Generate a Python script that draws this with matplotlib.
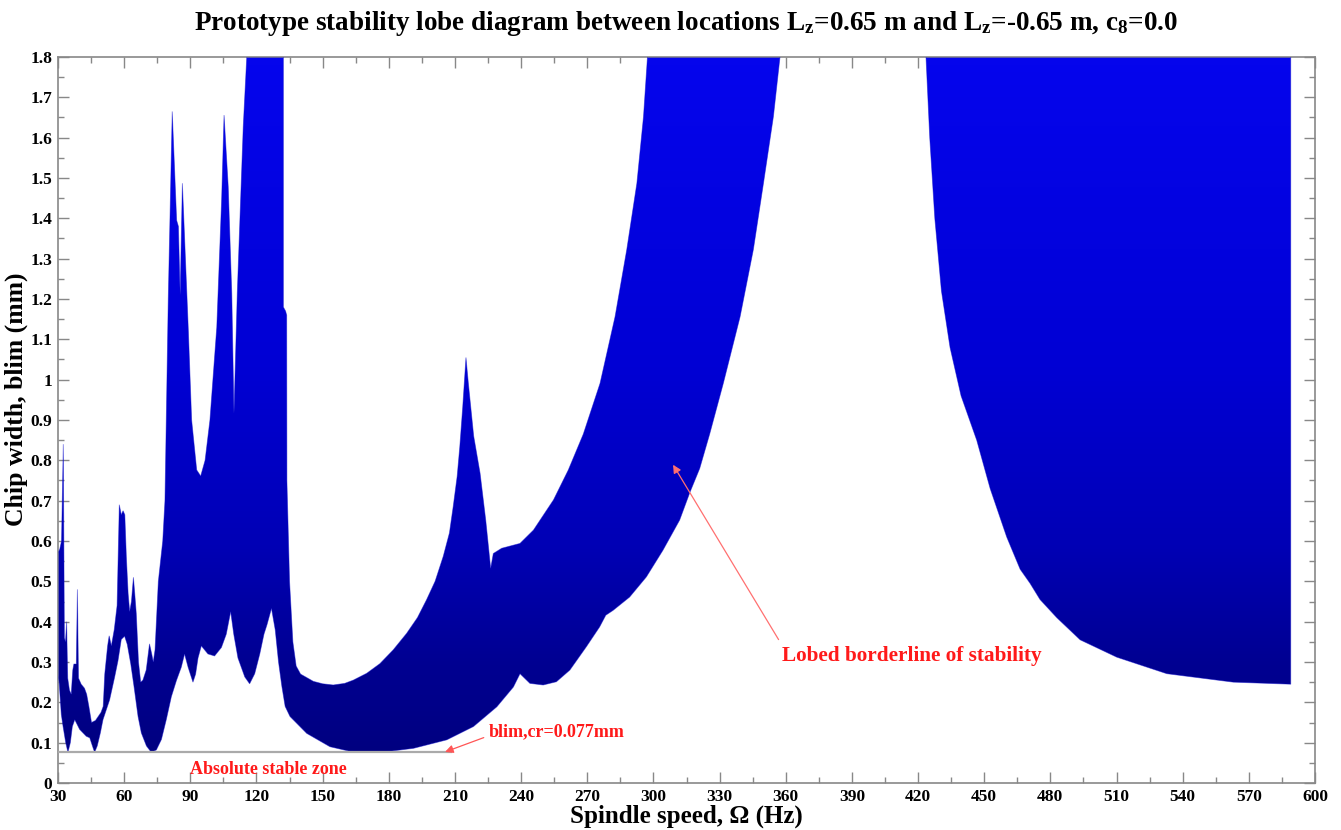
import numpy as np
import matplotlib
matplotlib.use("Agg")
import matplotlib.pyplot as plt
from matplotlib.patches import Polygon
from matplotlib.colors import LinearSegmentedColormap
from matplotlib.ticker import MultipleLocator, FuncFormatter

# ---------------- data ----------------
# main lobe group: upper boundary, left -> right
upper_x = [30.0, 30.8, 31.6, 32.4, 32.9, 33.4, 33.9, 34.4, 35.2, 36.0, 36.7, 37.2, 38.3, 38.8, 39.3,
           40.5, 42.0, 43.0, 44.0, 45.2, 47.0, 49.5, 50.5, 51.2, 52.5, 53.2, 54.2, 55.5, 56.8, 57.8,
           58.7, 59.5, 60.3, 61.0, 61.8, 62.5, 63.3, 64.2, 64.8, 65.5, 66.5, 67.5, 68.5, 70.0, 71.5,
           72.5, 73.2, 74.0, 75.5, 77.5, 78.5, 80.0, 81.8, 83.8, 84.6, 85.4, 86.4, 89.1, 90.6, 92.9,
           94.7, 96.7, 98.9, 102.0, 104.2, 105.3, 107.2, 108.8, 109.8, 111.3, 114.0, 115.6, 132.2,
           132.2, 133.2, 133.7, 133.8, 135.0, 136.5, 138.0, 140.0, 145.8, 150.0, 154.8, 160.0, 163.9,
           170.0, 176.0, 182.0, 188.1, 193.0, 197.1, 201.0, 204.7, 207.5, 209.2, 211.0, 212.2, 213.5,
           215.0, 216.1, 218.5, 221.4, 224.0, 226.2, 227.4, 231.2, 239.5, 245.6, 254.7, 261.4, 268.2,
           275.8, 282.6, 287.9, 292.5, 295.5, 297.3, 357.4]
upper_y = [0.57, 0.58, 0.60, 0.84, 0.36, 0.35, 0.40, 0.26, 0.23, 0.22, 0.28, 0.295, 0.295, 0.48, 0.26,
           0.245, 0.235, 0.22, 0.19, 0.15, 0.155, 0.175, 0.19, 0.27, 0.34, 0.365, 0.34, 0.38, 0.44, 0.69,
           0.665, 0.675, 0.665, 0.56, 0.47, 0.425, 0.45, 0.51, 0.47, 0.42, 0.30, 0.25, 0.255, 0.28, 0.345,
           0.32, 0.30, 0.33, 0.50, 0.60, 0.70, 1.20, 1.665, 1.395, 1.38, 1.21, 1.487, 1.123, 0.90, 0.776,
           0.761, 0.80, 0.90, 1.13, 1.446, 1.656, 1.478, 1.214, 0.917, 1.215, 1.627, 1.80, 1.80,
           1.18, 1.17, 1.16, 0.75, 0.50, 0.35, 0.29, 0.27, 0.252, 0.246, 0.243, 0.247, 0.255,
           0.272, 0.296, 0.33, 0.371, 0.41, 0.454, 0.50, 0.562, 0.62, 0.685, 0.76, 0.834, 0.93,
           1.055, 0.99, 0.86, 0.768, 0.65, 0.532, 0.569, 0.582, 0.594, 0.627, 0.702, 0.776, 0.865,
           0.991, 1.156, 1.322, 1.487, 1.652, 1.80, 1.80]

# main lobe group: lower boundary, left -> right
lower_x = [30.0, 30.5, 31.5, 32.3, 33.5, 34.5, 35.6, 36.5, 37.6, 39.8, 42.8, 44.4, 45.6, 46.6, 47.8,
           49.2, 50.4, 53.4, 55.7, 57.2, 58.7, 60.2, 61.4, 63.0, 64.5, 66.3, 67.8, 70.1, 72.3, 74.6,
           76.9, 79.1, 81.4, 83.7, 85.9, 87.4, 89.0, 91.2, 92.4, 93.5, 95.0, 98.0, 101.0, 104.1, 106.3,
           108.3, 109.7, 111.6, 114.7, 116.9, 119.2, 121.5, 123.4, 124.8, 126.8, 128.5, 130.0, 131.5,
           133.0, 135.2, 142.8, 153.3, 162.0, 171.5, 181.0, 191.2, 206.3, 218.4, 229.0, 236.5, 239.5,
           244.0, 250.0, 256.0, 262.1, 269.6, 275.6, 278.4, 281.7, 289.2, 296.8, 304.3, 311.9, 316.5,
           321.0, 325.5, 331.7, 339.3, 345.3, 349.9, 354.4, 357.4]
lower_y = [0.27, 0.25, 0.17, 0.14, 0.10, 0.076, 0.10, 0.14, 0.157, 0.133, 0.116, 0.112, 0.092, 0.076, 0.092,
           0.124, 0.157, 0.206, 0.263, 0.303, 0.356, 0.364, 0.344, 0.295, 0.238, 0.165, 0.124, 0.092, 0.076, 0.082,
           0.108, 0.157, 0.214, 0.254, 0.287, 0.32, 0.287, 0.25, 0.27, 0.31, 0.34, 0.32, 0.315, 0.336, 0.369,
           0.425, 0.369, 0.31, 0.263, 0.246, 0.271, 0.32, 0.369, 0.393, 0.433, 0.38, 0.30, 0.24,
           0.19, 0.165, 0.123, 0.090, 0.079, 0.077, 0.079, 0.086, 0.107, 0.140, 0.189, 0.238, 0.271,
           0.247, 0.243, 0.251, 0.28, 0.338, 0.387, 0.416, 0.428, 0.461, 0.511, 0.577, 0.652, 0.72,
           0.78, 0.865, 0.991, 1.156, 1.322, 1.487, 1.652, 1.80]

# right lobe: lower-left boundary, left -> right (top is the plot limit 1.8)
right_x = [423.6, 425.3, 427.6, 430.6, 434.5, 439.5, 446.6, 452.7, 460.2, 466.3, 470.8, 475.3,
           482.9, 493.5, 510.1, 532.8, 563.0, 589.0]
right_y = [1.80, 1.60, 1.40, 1.22, 1.08, 0.96, 0.85, 0.73, 0.61, 0.53, 0.495, 0.455,
           0.41, 0.355, 0.312, 0.271, 0.25, 0.245]

blim_cr = 0.077
stable_line_end = 208.0

x_ticks = list(range(30, 601, 30))
y_ticks = [round(0.1 * i, 1) for i in range(0, 19)]

# ---------------- figure ----------------
plt.rcParams['font.family'] = ['Liberation Serif', 'DejaVu Serif']
plt.rcParams['font.weight'] = 'bold'
plt.rcParams['mathtext.fontset'] = 'custom'
plt.rcParams['mathtext.rm'] = 'Liberation Serif:bold'
plt.rcParams['mathtext.it'] = 'Liberation Serif:bold'
plt.rcParams['mathtext.bf'] = 'Liberation Serif:bold'

fig = plt.figure(figsize=(13.41, 8.30), dpi=100)
ax = fig.add_axes([58 / 1341, 1 - 783 / 830, (1315 - 58) / 1341, (783 - 57) / 830])
ax.set_xlim(30, 600)
ax.set_ylim(0, 1.8)

cmap = LinearSegmentedColormap.from_list(
    "lobe",
    [(0.0, (0.0, 0.0, 0.50)), (0.13, (0.0, 0.0, 0.57)), (0.30, (0.0, 0.0, 0.71)),
     (0.55, (0.0, 0.0, 0.83)), (1.0, (0.02, 0.02, 0.93))])
grad = np.linspace(0, 1, 256).reshape(-1, 1)

main_poly = list(zip(upper_x, upper_y)) + list(zip(lower_x[::-1], lower_y[::-1]))
right_poly = [(right_x[0], 1.8), (right_x[-1], 1.8)] + list(zip(right_x[::-1], right_y[::-1]))

for poly in (main_poly, right_poly):
    patch = Polygon(poly, closed=True, facecolor='none', edgecolor='none')
    ax.add_patch(patch)
    im = ax.imshow(grad, extent=(30, 600, 0.07, 1.8), origin='lower', cmap=cmap,
                   aspect='auto', interpolation='bilinear', zorder=2)
    im.set_clip_path(patch)
    edge = Polygon(poly, closed=True, facecolor='none', edgecolor=(0.05, 0.05, 0.8),
                   linewidth=0.6, zorder=3, alpha=0.5)
    ax.add_patch(edge)

ax.set_xlim(30, 600)
ax.set_ylim(0, 1.8)

# absolute stability line
ax.plot([30, stable_line_end], [blim_cr, blim_cr], color='#aaaaaa', linewidth=1.6, zorder=4)

red = '#ff1a1a'
ax.annotate('blim,cr=0.077mm', xy=(205.5, blim_cr), xytext=(225.5, 0.128),
            fontsize=13, color=red, fontweight='bold', va='center', ha='left',
            arrowprops=dict(arrowstyle='-|>', color='#ff5555', lw=0.9, shrinkA=2, shrinkB=0,
                            mutation_scale=12, relpos=(0.0, 0.25)), zorder=5)
ax.text(125.5, 0.034, 'Absolute stable zone', fontsize=13, color=red, fontweight='bold',
        ha='center', va='center', zorder=5)
ax.annotate('Lobed borderline of stability', xy=(308.9, 0.789), xytext=(358.5, 0.315),
            fontsize=15.3, color=red, fontweight='bold', va='center', ha='left',
            arrowprops=dict(arrowstyle='-|>', color='#ff7070', lw=0.9, shrinkA=3, shrinkB=0,
                            mutation_scale=12, relpos=(0.0, 1.0)), zorder=5)

# ticks
ax.set_xticks(x_ticks)
ax.set_yticks(y_ticks)
ax.xaxis.set_minor_locator(MultipleLocator(15))
ax.yaxis.set_minor_locator(MultipleLocator(0.05))
ax.yaxis.set_major_formatter(FuncFormatter(lambda v, p: f"{v:g}"))
ax.tick_params(which='both', direction='in', top=True, right=True, color='#888888',
               labelsize=12.5, pad=4)
ax.tick_params(which='major', length=8, width=1.0)
ax.tick_params(which='minor', length=4, width=1.0)
for lab in ax.get_xticklabels() + ax.get_yticklabels():
    lab.set_fontweight('bold')
for s in ax.spines.values():
    s.set_color('#888888')
    s.set_linewidth(1.2)

ax.set_xlabel('Spindle speed, Ω (Hz)', fontsize=18, fontweight='bold', labelpad=0)
ax.set_ylabel('Chip width, blim (mm)', fontsize=18.5, fontweight='bold', labelpad=1)
ax.yaxis.set_label_coords(-0.0235, 0.528)
fig.text(686 / 1341, 1 - 24 / 830,
         r'Prototype stability lobe diagram between locations L$_{\mathrm{z}}$=0.65 m and L$_{\mathrm{z}}$=-0.65 m, c$_{8}$=0.0',
         ha='center', va='center', fontsize=19.5, fontweight='bold')

fig.savefig('out.png', dpi=100)
